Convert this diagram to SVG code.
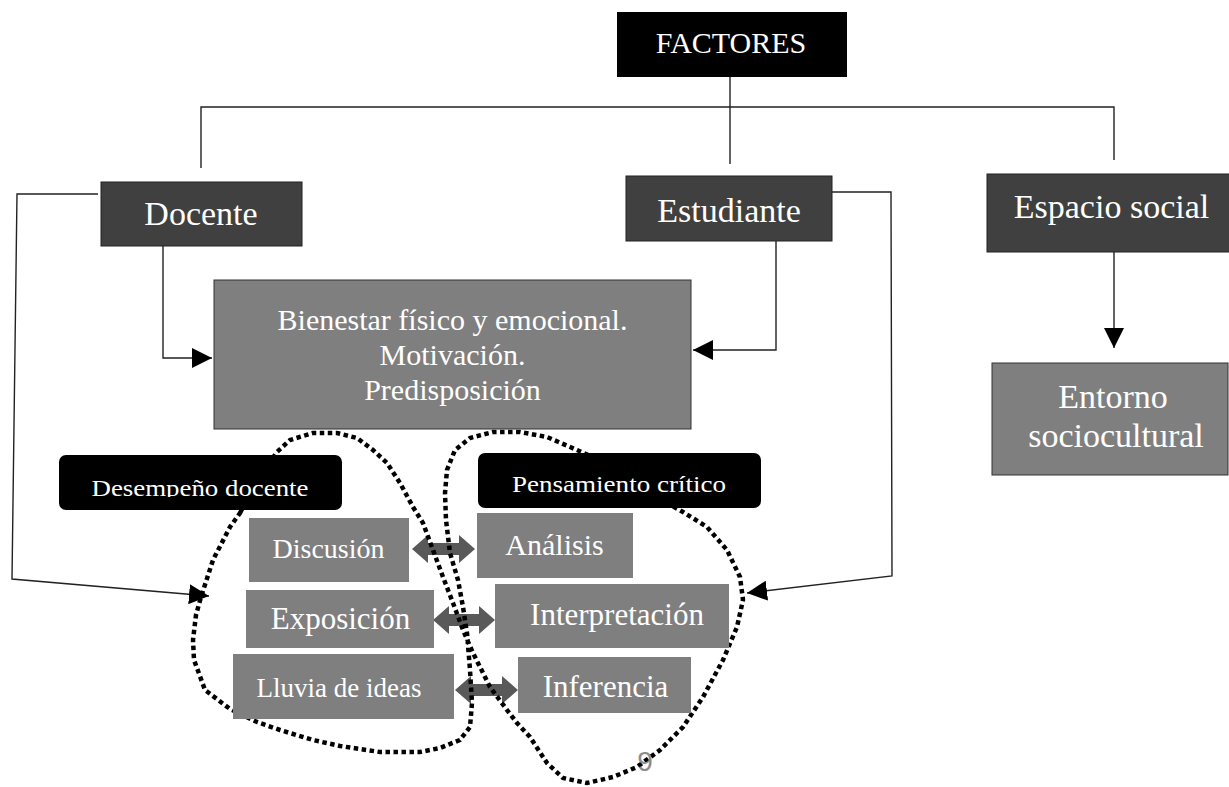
<svg xmlns="http://www.w3.org/2000/svg" width="1229" height="787" viewBox="0 0 1229 787">
<style>
  .t{font-family:"Liberation Serif","Times New Roman",serif;fill:#fff;text-anchor:middle}
  .ln{fill:none;stroke:#222;stroke-width:1.4}
  .dk{fill:#404040;stroke:#222;stroke-width:1}
  .gr{fill:#7f7f7f}
  .grb{fill:#7f7f7f;stroke:#333;stroke-width:1}
  .dbl{fill:#595959}
  .blob{fill:none;stroke:#000;stroke-width:4.5;stroke-dasharray:4.5 3.5}
</style>
<defs>
  <marker id="ah" markerUnits="userSpaceOnUse" markerWidth="20" markerHeight="20" refX="20" refY="10" orient="auto">
    <path d="M0,0 L20,10 L0,20 z" fill="#000"/>
  </marker>
  <clipPath id="clipD"><rect x="55" y="450" width="300" height="47"/></clipPath>
  <clipPath id="clipP"><rect x="475" y="448" width="300" height="45"/></clipPath>
</defs>
<rect width="1229" height="787" fill="#fff"/>

<g id="connectors">
  <line class="ln" x1="730" y1="77" x2="730" y2="164"/>
  <polyline class="ln" points="201,168 201,107 1114,107 1114,160"/>
  <polyline class="ln" points="98,194 17,194 12,579 209,596" marker-end="url(#ah)"/>
  <polyline class="ln" points="163,245 163,358 212,358" marker-end="url(#ah)"/>
  <polyline class="ln" points="776,241 776,350 693,350" marker-end="url(#ah)"/>
  <polyline class="ln" points="832,192 891,192 892,576 747,593" marker-end="url(#ah)"/>
  <line class="ln" x1="1114" y1="252" x2="1114" y2="348" marker-end="url(#ah)"/>
  <polygon class="dbl" points="412,549 428,535 428,543 459,543 459,535 475,549 459,563 459,555 428,555 428,563"/>
  <polygon class="dbl" points="433,620 449,606 449,614 479,614 479,606 495,620 479,634 479,626 449,626 449,634"/>
  <polygon class="dbl" points="455,690 471,676 471,684 502,684 502,676 518,690 502,704 502,696 471,696 471,704"/>
</g>

<g id="grouping">
  <path class="blob" d="M240,513 L256,482 L277,452 L290,440 L313,433 L337,433 L357,438 L373,450 L387,463 L400,483 L413,507 L423,523 L433,550 L443,577 L453,603 L463,630 L473,653 L490,687 L507,710 L517,723 L530,737 L547,763 L563,778 L587,783 L613,777 L637,767 L660,750 L683,727 L703,697 L723,660 L737,627 L743,600 L740,577 L727,550 L707,527 L683,512 L667,503 L640,485 L610,465 L577,450 L547,437 L520,432 L493,432 L470,438 L455,450 L447,470 L445,493 L446,520 L450,553 L458,580 L463,607 L467,633 L470,670 L472,703 L470,727 L460,740 L440,748 L420,752 L380,752 L340,746 L313,740 L280,730 L257,722 L230,709 L205,690 L194,660 L193,640 L196,615 L201,597 L213,560 L230,527 Z"/>
</g>

<g id="factores">
  <rect x="617" y="12" width="230" height="65" fill="#000"/>
  <text class="t" x="731" y="53" font-size="30">FACTORES</text>
</g>
<g id="docente">
  <rect class="dk" x="101" y="182" width="201" height="64"/>
  <text class="t" x="201" y="225" font-size="34">Docente</text>
</g>
<g id="estudiante">
  <rect class="dk" x="626" y="176" width="206" height="65"/>
  <text class="t" x="729" y="221.5" font-size="34">Estudiante</text>
</g>
<g id="espacio">
  <rect class="dk" x="987" y="174" width="250" height="78"/>
  <text class="t" x="1111.5" y="218" font-size="34">Espacio social</text>
</g>
<g id="entorno">
  <rect class="grb" x="992" y="363" width="236" height="112"/>
  <text class="t" x="1113" y="408" font-size="34">Entorno</text>
  <text class="t" x="1116" y="446.5" font-size="34">sociocultural</text>
</g>
<g id="bienestar">
  <rect class="grb" x="214" y="280" width="477" height="149"/>
  <text class="t" x="452.5" y="330" font-size="30">Bienestar físico y emocional.</text>
  <text class="t" x="452.5" y="365" font-size="30">Motivación.</text>
  <text class="t" x="452.5" y="400" font-size="30">Predisposición</text>
</g>
<g id="desempeno">
  <rect x="59" y="455" width="283" height="55" rx="7" fill="#000"/>
  <text class="t" x="200" y="495.5" font-size="24" textLength="217" lengthAdjust="spacingAndGlyphs" clip-path="url(#clipD)">Desempeño docente</text>
</g>
<g id="pensamiento">
  <rect x="478" y="453" width="283" height="55" rx="7" fill="#000"/>
  <text class="t" x="619" y="492" font-size="23.5" textLength="214" lengthAdjust="spacingAndGlyphs" clip-path="url(#clipP)">Pensamiento crítico</text>
</g>
<g id="discusion">
  <rect class="gr" x="249" y="518" width="160" height="64"/>
  <text class="t" x="328.5" y="558" font-size="28">Discusión</text>
</g>
<g id="exposicion">
  <rect class="gr" x="246" y="590" width="188" height="58"/>
  <text class="t" x="340.5" y="629" font-size="31">Exposición</text>
</g>
<g id="lluvia">
  <rect class="gr" x="233" y="654" width="221" height="65"/>
  <text class="t" x="339" y="696.5" font-size="27">Lluvia de ideas</text>
</g>
<g id="analisis">
  <rect class="gr" x="477" y="513" width="156" height="65"/>
  <text class="t" x="554.5" y="555" font-size="30">Análisis</text>
</g>
<g id="interpretacion">
  <rect class="gr" x="495" y="584" width="234" height="64"/>
  <text class="t" x="617" y="625" font-size="31">Interpretación</text>
</g>
<g id="inferencia">
  <rect class="gr" x="518" y="657" width="173" height="56"/>
  <text class="t" x="605.5" y="696.5" font-size="31">Inferencia</text>
</g>
<text x="645" y="771" font-family="'Liberation Sans',Arial,sans-serif" font-size="28" fill="#8c8c8c" text-anchor="middle">9</text>
</svg>
